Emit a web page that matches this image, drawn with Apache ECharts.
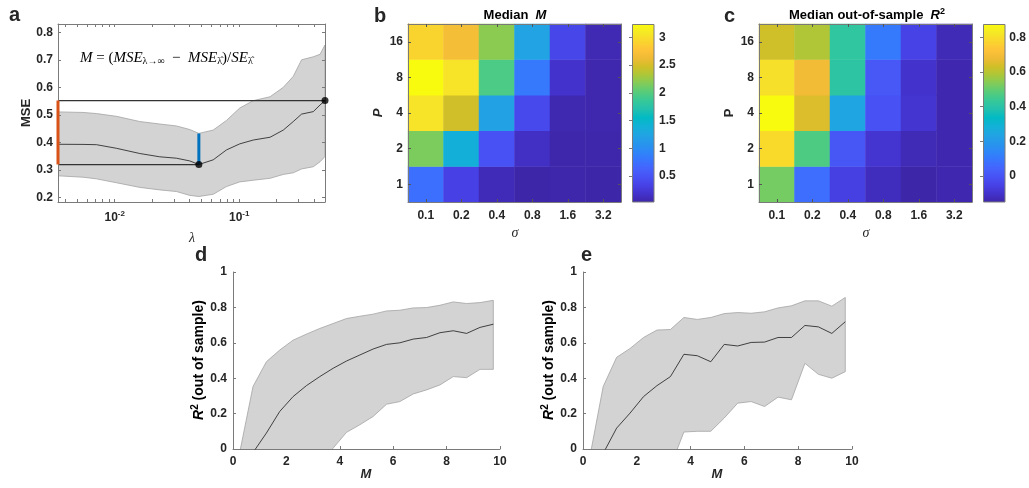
<!DOCTYPE html>
<html>
<head>
<meta charset="utf-8">
<script src="https://cdn.jsdelivr.net/npm/echarts@6/dist/echarts.min.js"></script>
<style>
html,body{margin:0;padding:0;background:#fff;}
#chart{width:1029px;height:488px;}
</style>
</head>
<body>
<div id="chart"></div>
<script>
// ---------- DATA ----------
// Panel a: cross-validation MSE vs lambda
const lambda = [0.0035, 0.00556, 0.00713, 0.0103, 0.0159, 0.023, 0.0313, 0.0401, 0.0474, 0.0618, 0.079, 0.101, 0.13, 0.177, 0.226, 0.272, 0.317, 0.394, 0.446, 0.489];
const mseMid = [0.3935, 0.393, 0.392, 0.379, 0.360, 0.348, 0.343, 0.333, 0.320, 0.337, 0.373, 0.395, 0.409, 0.419, 0.445, 0.476, 0.503, 0.512, 0.536, 0.552];
const mseUp  = [0.511, 0.509, 0.505, 0.495, 0.476, 0.467, 0.460, 0.447, 0.433, 0.445, 0.480, 0.525, 0.552, 0.566, 0.600, 0.640, 0.700, 0.711, 0.720, 0.754];
const mseLow = [0.279, 0.274, 0.268, 0.254, 0.237, 0.228, 0.222, 0.208, 0.204, 0.212, 0.240, 0.257, 0.263, 0.270, 0.284, 0.290, 0.304, 0.312, 0.330, 0.349];
const lambdaBest = 0.0474, mseBest = 0.320, mseBestUpper = 0.433, mseInf = 0.552;
const aYTicks = [0.2, 0.3, 0.4, 0.5, 0.6, 0.7, 0.8];
const aXTicks = [-2, -1]; // log10 positions of 10^-2, 10^-1

// Panels b, c: heatmaps
const sigmaLabels = ['0.1', '0.2', '0.4', '0.8', '1.6', '3.2'];
const pLabels = ['1', '2', '4', '8', '16'];
const medianM = [            // rows: P = 1, 2, 4, 8, 16
  [0.74, 0.34, 0.10, 0.03, 0.04, 0.03],
  [2.15, 1.38, 0.49, 0.15, 0.04, 0.04],
  [3.04, 2.47, 1.22, 0.41, 0.07, 0.05],
  [3.24, 3.04, 1.96, 0.83, 0.19, 0.05],
  [2.92, 2.69, 2.21, 1.23, 0.38, 0.08]
];
const medianR2 = [
  [0.52, 0.076, -0.06, -0.12, -0.15, -0.14],
  [0.79, 0.47, 0.01, -0.09, -0.13, -0.14],
  [0.877, 0.65, 0.24, -0.006, -0.09, -0.14],
  [0.805, 0.69, 0.41, 0.014, -0.10, -0.14],
  [0.63, 0.59, 0.42, 0.107, -0.05, -0.13]
];
const cbTicksM = [0.5, 1, 1.5, 2, 2.5, 3];
const cbTicksR2 = [0, 0.2, 0.4, 0.6, 0.8];

// Panels d, e: R^2 vs M (bin centres)
const mBins = [0.25, 0.75, 1.25, 1.75, 2.25, 2.75, 3.25, 3.75, 4.25, 4.75, 5.25, 5.75, 6.25, 6.75, 7.25, 7.75, 8.25, 8.75, 9.25, 9.75];
const dMid = [-0.30, -0.02, 0.09, 0.212, 0.296, 0.358, 0.409, 0.456, 0.497, 0.531, 0.565, 0.591, 0.600, 0.621, 0.630, 0.657, 0.668, 0.653, 0.687, 0.705];
const dUp  = [-0.02, 0.353, 0.493, 0.559, 0.615, 0.649, 0.681, 0.709, 0.737, 0.750, 0.762, 0.780, 0.784, 0.797, 0.799, 0.812, 0.831, 0.822, 0.827, 0.840];
const dLow = [-0.9, -0.8, -0.6, -0.45, -0.32, -0.2, -0.08, 0.005, 0.094, 0.137, 0.184, 0.253, 0.268, 0.311, 0.334, 0.362, 0.409, 0.403, 0.450, 0.450];
const eMid = [-0.30, -0.025, 0.118, 0.203, 0.296, 0.358, 0.409, 0.535, 0.527, 0.493, 0.591, 0.582, 0.602, 0.604, 0.630, 0.630, 0.698, 0.690, 0.653, 0.719];
const eUp  = [-0.048, 0.353, 0.518, 0.568, 0.630, 0.672, 0.675, 0.743, 0.732, 0.743, 0.765, 0.771, 0.767, 0.775, 0.797, 0.809, 0.837, 0.837, 0.807, 0.856];
const eLow = [-0.9, -0.8, -0.65, -0.5, -0.35, -0.22, -0.10, 0.096, 0.100, 0.100, 0.175, 0.259, 0.268, 0.240, 0.293, 0.278, 0.484, 0.422, 0.400, 0.437];

// ---------- STYLE ----------
const parula = ['#3E26A8','#4332CB','#4741E5','#4852F4','#4563FD','#3875FE','#2E87F7','#2796EB','#20A5E3','#12B1D6','#02BAC3','#24C1AE','#37C897','#57CC7A','#81CC59','#ABC739','#D1BF27','#EFBA36','#FEC338','#FAD62D','#F5E925','#F9FB0E'];
const AX = '#7a7a7a', TXT = '#262626';
const SANS = '"Liberation Sans", Arial, Helvetica, sans-serif';
const SERIF = '"Liberation Serif", "DejaVu Serif", serif';
const BAND = '#d3d3d3', BANDEDGE = '#a3a3a3';
const TICKFS = 12;

const lg = v => Math.log10(v);
const xMinA = lg(lambda[0]), xMaxA = lg(lambda[lambda.length - 1]);
const minorA = [];
for (let d = -3; d <= -1; d++) for (let k = 1; k <= 9; k++) {
  const v = d + Math.log10(k);
  if (v > xMinA && v < xMaxA) minorA.push(v);
}
const flat = a => a.reduce((s, r) => s.concat(r), []);
const mMin = Math.min(...flat(medianM)), mMax = Math.max(...flat(medianM));
const rMin = Math.min(...flat(medianR2)), rMax = Math.max(...flat(medianR2));

function heat(mat) {
  const out = [];
  mat.forEach((row, yi) => row.forEach((v, xi) => out.push([xi, yi, v])));
  return out;
}
const lblStyle = {color: TXT, fontFamily: SANS, fontWeight: 'bold', fontSize: TICKFS};
const lineAx = {show: true, onZero: false, lineStyle: {color: AX, width: 1}};
const noSplit = {show: false};

function boxedValueAxis(grid, pos, min, max, extra) {
  return Object.assign({
    gridIndex: grid, type: 'value', position: pos, min: min, max: max, z: 10,
    axisLine: lineAx, splitLine: noSplit,
    axisTick: {show: true, inside: true, length: 3, lineStyle: {color: AX}},
    axisLabel: {show: false}
  }, extra || {});
}
function catAxis(grid, pos, data, showLabel, margin) {
  return {
    gridIndex: grid, type: 'category', position: pos, data: data, z: 10,
    axisLine: lineAx, splitLine: noSplit,
    axisTick: {show: true, inside: true, length: 3, alignWithLabel: true, lineStyle: {color: '#555'}},
    axisLabel: showLabel ? Object.assign({margin: margin}, lblStyle) : {show: false}
  };
}

const xAxis = [
  // 0,1 panel a
  boxedValueAxis(0, 'bottom', xMinA, xMaxA, {
    axisTick: {show: true, inside: true, length: 3, customValues: minorA, lineStyle: {color: AX}},
    axisLabel: {show: true, customValues: aXTicks, margin: 8,
      formatter: v => '{b|10}{s|' + Math.round(v) + '}',
      rich: {b: {fontFamily: SANS, fontWeight: 'bold', fontSize: TICKFS, color: TXT},
             s: {fontFamily: SANS, fontWeight: 'bold', fontSize: 8, color: TXT, padding: [0, 0, 7, 0]}}}
  }),
  boxedValueAxis(0, 'top', xMinA, xMaxA, {
    axisTick: {show: true, inside: true, length: 3, customValues: minorA, lineStyle: {color: AX}}
  }),
  // 2,3 panel b
  catAxis(1, 'bottom', sigmaLabels, true, 8),
  catAxis(1, 'top', sigmaLabels, false),
  // 4,5 panel c
  catAxis(2, 'bottom', sigmaLabels, true, 8),
  catAxis(2, 'top', sigmaLabels, false),
  // 6 panel d, 7 panel e
  {gridIndex: 3, type: 'value', min: 0, max: 10, interval: 2, axisLine: lineAx, splitLine: noSplit,
   axisTick: {show: true, inside: true, length: 3, lineStyle: {color: AX}}, axisLabel: Object.assign({margin: 7}, lblStyle)},
  {gridIndex: 4, type: 'value', min: 0, max: 10, interval: 2, axisLine: lineAx, splitLine: noSplit,
   axisTick: {show: true, inside: true, length: 3, lineStyle: {color: AX}}, axisLabel: Object.assign({margin: 7}, lblStyle)},
  // 8,9 colorbars (hidden)
  {gridIndex: 5, type: 'value', show: false, min: 0, max: 1},
  {gridIndex: 6, type: 'value', show: false, min: 0, max: 1}
];

const yAxis = [
  boxedValueAxis(0, 'left', 0.184, 0.83, {
    axisTick: {show: true, inside: true, length: 3, customValues: aYTicks, lineStyle: {color: AX}},
    axisLabel: Object.assign({show: true, customValues: aYTicks, margin: 5, formatter: v => v.toFixed(1)}, lblStyle)
  }),
  boxedValueAxis(0, 'right', 0.184, 0.83, {
    axisTick: {show: true, inside: true, length: 3, customValues: aYTicks, lineStyle: {color: AX}}
  }),
  catAxis(1, 'left', pLabels, true, 5),
  catAxis(1, 'right', pLabels, false),
  catAxis(2, 'left', pLabels, true, 5),
  catAxis(2, 'right', pLabels, false),
  {gridIndex: 3, type: 'value', min: 0, max: 1, interval: 0.2, axisLine: lineAx, splitLine: noSplit,
   axisTick: {show: true, inside: true, length: 3, lineStyle: {color: AX}}, axisLabel: Object.assign({margin: 6}, lblStyle)},
  {gridIndex: 4, type: 'value', min: 0, max: 1, interval: 0.2, axisLine: lineAx, splitLine: noSplit,
   axisTick: {show: true, inside: true, length: 3, lineStyle: {color: AX}}, axisLabel: Object.assign({margin: 6}, lblStyle)},
  boxedValueAxis(5, 'right', mMin, mMax, {
    axisLine: {show: false},
    axisTick: {show: true, inside: true, length: 3, customValues: cbTicksM, lineStyle: {color: AX}},
    axisLabel: Object.assign({show: true, customValues: cbTicksM, margin: 5}, lblStyle)
  }),
  boxedValueAxis(6, 'right', rMin, rMax, {
    axisLine: {show: false},
    axisTick: {show: true, inside: true, length: 3, customValues: cbTicksR2, lineStyle: {color: AX}},
    axisLabel: Object.assign({show: true, customValues: cbTicksR2, margin: 5}, lblStyle)
  })
];

const grid = [
  {left: 58, top: 24, width: 267, height: 178},
  {left: 408, top: 24, width: 213, height: 178},
  {left: 759, top: 24, width: 213, height: 178},
  {left: 233, top: 272, width: 267, height: 177},
  {left: 583, top: 272, width: 269, height: 177},
  {left: 632, top: 24, width: 22, height: 178},
  {left: 983, top: 24, width: 22, height: 178}
];

// shaded band drawn as one polygon through the axis scales
function band(xi, yi, xs, lo, up) {
  return {
    type: 'custom', xAxisIndex: xi, yAxisIndex: yi, clip: true, silent: true, z: 2,
    data: xs.map((x, i) => [x, lo[i], up[i]]),
    encode: {x: 0, y: [1, 2]},
    renderItem: function (params, api) {
      if (params.dataIndex !== 0) return null;
      const pts = [];
      for (let i = 0; i < xs.length; i++) pts.push(api.coord([xs[i], up[i]]));
      for (let i = xs.length - 1; i >= 0; i--) pts.push(api.coord([xs[i], lo[i]]));
      return {type: 'polygon', shape: {points: pts}, style: {fill: BAND, stroke: BANDEDGE, lineWidth: 0.8}};
    }
  };
}
const xsA = lambda.map(lg);
const xBest = lg(lambdaBest);

const series = [
  band(0, 0, xsA, mseLow, mseUp),
  {type: 'line', xAxisIndex: 0, yAxisIndex: 0, symbol: 'none', z: 3, lineStyle: {color: '#1a1a1a', width: 0.8},
   data: xsA.map((x, i) => [x, mseMid[i]])},
  {type: 'line', xAxisIndex: 0, yAxisIndex: 0, symbol: 'none', z: 4, clip: false, lineStyle: {color: '#333', width: 1.3},
   data: [[xMinA, mseInf], [xMaxA, mseInf]]},
  {type: 'line', xAxisIndex: 0, yAxisIndex: 0, symbol: 'none', z: 4, clip: false, lineStyle: {color: '#333', width: 1.3},
   data: [[xMinA, mseBest], [xBest, mseBest]]},
  {type: 'line', xAxisIndex: 0, yAxisIndex: 0, symbol: 'none', z: 20, clip: false, lineStyle: {color: '#D95319', width: 3},
   data: [[xMinA, mseBest], [xMinA, mseInf]]},
  {type: 'line', xAxisIndex: 0, yAxisIndex: 0, symbol: 'none', z: 20, clip: false, lineStyle: {color: '#0072BD', width: 3},
   data: [[xBest, mseBest], [xBest, mseBestUpper]]},
  {type: 'scatter', xAxisIndex: 0, yAxisIndex: 0, z: 21, clip: false, symbolSize: 7, itemStyle: {color: '#000'},
   data: [[xBest, mseBest], [xMaxA, mseInf]]},
  {type: 'heatmap', xAxisIndex: 2, yAxisIndex: 2, data: heat(medianM), itemStyle: {borderWidth: 0}, emphasis: {disabled: true}},
  {type: 'heatmap', xAxisIndex: 4, yAxisIndex: 4, data: heat(medianR2), itemStyle: {borderWidth: 0}, emphasis: {disabled: true}},
  band(6, 6, mBins, dLow, dUp),
  {type: 'line', xAxisIndex: 6, yAxisIndex: 6, symbol: 'none', z: 3, lineStyle: {color: '#1a1a1a', width: 0.8},
   data: mBins.map((x, i) => [x, dMid[i]])},
  band(7, 7, mBins, eLow, eUp),
  {type: 'line', xAxisIndex: 7, yAxisIndex: 7, symbol: 'none', z: 3, lineStyle: {color: '#1a1a1a', width: 0.8},
   data: mBins.map((x, i) => [x, eMid[i]])}
];
const heatIdxB = series.findIndex(s => s.type === 'heatmap');
const heatIdxC = heatIdxB + 1;

const visualMap = [
  {type: 'continuous', show: false, seriesIndex: heatIdxB, dimension: 2, min: mMin, max: mMax, inRange: {color: parula}},
  {type: 'continuous', show: false, seriesIndex: heatIdxC, dimension: 2, min: rMin, max: rMax, inRange: {color: parula}}
];

function gradient() {
  const stops = parula.map((c, i) => ({offset: 1 - i / (parula.length - 1), color: c})).reverse();
  return new echarts.graphic.LinearGradient(0, 0, 0, 1, stops);
}
function txt(x, y, text, font, extra, rot) {
  return {type: 'text', x: x, y: y, z: 100, rotation: rot || 0,
    style: Object.assign({text: text, font: font, fill: TXT, textAlign: 'center', textVerticalAlign: 'middle'}, extra || {})};
}
const richMath = {
  it: {fontFamily: SERIF, fontStyle: 'italic', fontSize: 15, color: TXT},
  rm: {fontFamily: SERIF, fontSize: 15, color: TXT},
  sub: {fontFamily: SERIF, fontSize: 10, color: TXT, padding: [7, 0, 0, 0]}
};
const richR2 = {
  b: {fontFamily: SANS, fontWeight: 'bold', fontSize: 14, color: TXT},
  bi: {fontFamily: SANS, fontWeight: 'bold', fontStyle: 'italic', fontSize: 14, color: TXT},
  s: {fontFamily: SANS, fontWeight: 'bold', fontSize: 10, color: TXT, padding: [0, 0, 8, 0]}
};
const R90 = Math.PI / 2;
const LETTER = 'bold 20px ' + SANS;
const letterPos = {textAlign: 'left', textVerticalAlign: 'bottom'};

const graphic = [
  {type: 'rect', z: 50, shape: {x: 632.5, y: 24.5, width: 21.5, height: 177.5}, style: {fill: gradient(), stroke: AX, lineWidth: 1}},
  {type: 'rect', z: 50, shape: {x: 983.5, y: 24.5, width: 21.5, height: 177.5}, style: {fill: gradient(), stroke: AX, lineWidth: 1}},
  // panel letters
  txt(9, 25, 'a', LETTER, letterPos),
  txt(374, 26, 'b', LETTER, letterPos),
  txt(724, 26, 'c', LETTER, letterPos),
  txt(195, 265, 'd', LETTER, letterPos),
  txt(581, 265, 'e', LETTER, letterPos),
  // panel a texts
  txt(26, 113, 'MSE', 'bold 13px ' + SANS, {}, R90),
  txt(192, 238, 'λ', 'italic 14px ' + SERIF, {}),
  {type: 'text', x: 80, y: 58, z: 100, style: {
    text: '{it|M}{rm| = (}{it|MSE}{sub|λ→∞}{rm|  −  }{it|MSE}{sub|λ\u0302}{rm|)/}{it|SE}{sub|λ\u0302}',
    rich: richMath, textAlign: 'left', textVerticalAlign: 'middle'}},
  // panel b texts
  {type: 'text', x: 515, y: 15, z: 100, style: {text: '{b|Median  }{bi|M}', rich: {
    b: {fontFamily: SANS, fontWeight: 'bold', fontSize: 13, color: '#000'},
    bi: {fontFamily: SANS, fontWeight: 'bold', fontStyle: 'italic', fontSize: 13, color: '#000'}},
    textAlign: 'center', textVerticalAlign: 'middle'}},
  txt(378, 113, 'P', 'italic bold 13px ' + SANS, {}, R90),
  txt(515, 233, 'σ', 'italic 14px ' + SERIF, {}),
  // panel c texts
  {type: 'text', x: 867, y: 15, z: 100, style: {text: '{b|Median out-of-sample  }{bi|R}{s|2}', rich: {
    b: {fontFamily: SANS, fontWeight: 'bold', fontSize: 13, color: '#000'},
    bi: {fontFamily: SANS, fontWeight: 'bold', fontStyle: 'italic', fontSize: 13, color: '#000'},
    s: {fontFamily: SANS, fontWeight: 'bold', fontSize: 9, color: '#000', padding: [0, 0, 7, 0]}},
    textAlign: 'center', textVerticalAlign: 'middle'}},
  txt(729, 113, 'P', 'bold 13px ' + SANS, {}, R90),
  txt(866, 233, 'σ', 'italic 14px ' + SERIF, {}),
  // panels d, e
  {type: 'text', x: 199, y: 360, z: 100, rotation: R90, style: {text: '{bi|R}{s|2}{b| (out of sample)}', rich: richR2, textAlign: 'center', textVerticalAlign: 'middle'}},
  txt(366, 474, 'M', 'italic bold 13px ' + SANS, {}),
  {type: 'text', x: 549, y: 360, z: 100, rotation: R90, style: {text: '{bi|R}{s|2}{b| (out of sample)}', rich: richR2, textAlign: 'center', textVerticalAlign: 'middle'}},
  txt(717, 474, 'M', 'italic bold 13px ' + SANS, {})
];

const chart = echarts.init(document.getElementById('chart'), null, {renderer: 'canvas'});
chart.setOption({
  animation: false,
  backgroundColor: '#fff',
  grid: grid, xAxis: xAxis, yAxis: yAxis, visualMap: visualMap, series: series, graphic: graphic
});
</script>
</body>
</html>
